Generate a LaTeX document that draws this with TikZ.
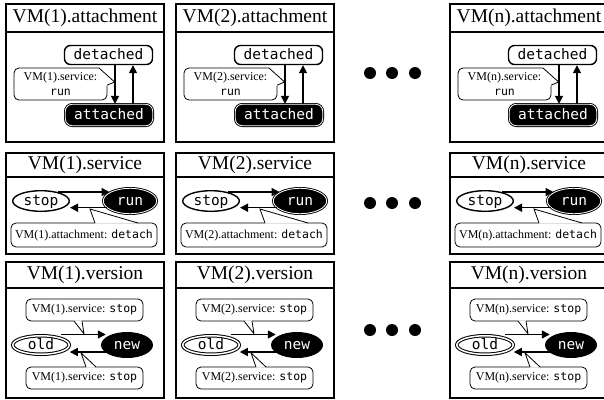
\documentclass[tikz,border=0pt]{standalone}
\usepackage{fontspec}
\setmainfont{Liberation Serif}
\setmonofont{DejaVu Sans Mono}
\usetikzlibrary{arrows.meta,shapes.geometric,calc}
\newcommand\stfont{\fontsize{14.5}{16}\selectfont\ttfamily}
\newcommand\cmono[1]{{\fontsize{11.5}{14}\selectfont\ttfamily #1}}
\begin{document}
\begin{tikzpicture}[x=1pt,y=-1pt,
 frame/.style={draw=black,line width=1.5pt},
 ttl/.style={font=\fontsize{19.5}{22}\selectfont,inner sep=0pt},
 stbase/.style={inner sep=0pt,font=\stfont,text height=10.5pt,text depth=2pt},
 detst/.style={stbase,rectangle,rounded corners=6pt,draw=black,fill=white,line width=1.4pt,minimum width=88pt,minimum height=19pt},
 attst/.style={stbase,rectangle,rounded corners=7pt,draw=black,double=white,double distance=0.8pt,line width=0.9pt,fill=black,text=white,minimum width=87.4pt,minimum height=21.4pt},
 stopst/.style={stbase,ellipse,draw=black,fill=white,line width=1.4pt,minimum width=56.6pt,minimum height=20.6pt},
 runst/.style={stbase,ellipse,draw=black,double=white,double distance=0.8pt,line width=0.9pt,fill=black,text=white,minimum width=53.4pt,minimum height=25.4pt},
 oldst/.style={stbase,ellipse,draw=black,double=white,double distance=1.5pt,line width=1pt,fill=white,minimum width=56.5pt,minimum height=18.5pt},
 newst/.style={stbase,ellipse,fill=black,text=white,minimum width=52pt,minimum height=26pt},
 callbox/.style={draw=black,fill=white,line width=0.8pt,rounded corners=5pt,inner sep=0pt,align=center,font=\fontsize{12}{14.5}\selectfont},
 cline/.style={draw=black,line width=0.8pt,line join=miter},
 arr/.style={draw=black,line width=1.5pt,-{Triangle[length=8pt,width=8pt]}},
]
\useasboundingbox (0,0) rectangle (604,399);
\clip (0,0) rectangle (604,399);
\foreach \X/\n in {6/1,176/2,450/n}{
 % ---- attachment row
 \draw[frame] (\X,4) rectangle ({\X+158},142);
 \draw[frame] (\X,32) -- ({\X+158},32);
 \node[ttl] (t1\n) at ({\X+79},18) {VM(\n).attachment};
 \node[callbox,minimum width=93pt,minimum height=32pt] (c1\n) at ({\X+54.5},84) {VM(\n).service:\\\cmono{run}};
 \fill[white] ({\X+92.5},67) rectangle ({\X+102},85.6);
 \draw[cline] ({\X+93},68) -- ({\X+108.6},82) -- ({\X+101},85.2);
 \node[detst] (det\n) at ({\X+102.5},55) {detached};
 \node[attst] (att\n) at ({\X+103},115) {attached};
 \coordinate (ad\n) at ({\X+109},0);
 \coordinate (au\n) at ({\X+127},0);
 \draw[arr] (det\n.south -| ad\n) -- (att\n.north -| ad\n);
 \draw[arr] (att\n.north -| au\n) -- (det\n.south -| au\n);
 % ---- service row
 \draw[frame] (\X,153) rectangle ({\X+158},254);
 \draw[frame] (\X,177) -- ({\X+158},177);
 \node[ttl] (t2\n) at ({\X+79},165) {VM(\n).service};
 \node[callbox,minimum width=146pt,minimum height=24pt] (c2\n) at ({\X+78},235) {VM(\n).attachment: \cmono{detach}};
 \fill[white] ({\X+89},223.6) -- ({\X+84},209) -- ({\X+132},223.6) -- cycle;
 \draw[cline] ({\X+89},223) -- ({\X+84},209) -- ({\X+132},223);
 \node[stopst] (stop\n) at ({\X+35},201) {stop};
 \node[runst] (run\n) at ({\X+124},201) {run};
 \draw[arr] (stop\n.28) -- (run\n.157 |- stop\n.28);
 \draw[arr] (run\n.-164) -- (stop\n.east |- run\n.-164);
 % ---- version row
 \draw[frame] (\X,262) rectangle ({\X+158},398);
 \draw[frame] (\X,288) -- ({\X+158},288);
 \node[ttl] (t3\n) at ({\X+79},275) {VM(\n).version};
 \node[callbox,minimum width=117pt,minimum height=22pt] (c3\n) at ({\X+78.5},310) {VM(\n).service: \cmono{stop}};
 \fill[white] ({\X+68},320.4) -- ({\X+78},333.8) -- ({\X+76},320.4) -- cycle;
 \draw[cline] ({\X+68},321) -- ({\X+78},333.8) -- ({\X+76},321);
 \node[callbox,minimum width=117pt,minimum height=22pt] (c4\n) at ({\X+78.5},378) {VM(\n).service: \cmono{stop}};
 \fill[white] ({\X+80},367.6) -- ({\X+75},352.8) -- ({\X+90},367.6) -- cycle;
 \draw[cline] ({\X+80},367) -- ({\X+75},352.8) -- ({\X+90},367);
 \node[oldst] (old\n) at ({\X+35},345) {old};
 \node[newst] (new\n) at ({\X+121},345) {new};
 \coordinate (ty\n) at (0,334.5);
 \coordinate (by\n) at (0,352);
 \draw[arr] (old\n.north east |- ty\n) -- (new\n.160 |- ty\n);
 \draw[arr] (new\n.200 |- by\n) -- (old\n.east |- by\n);
}
\foreach \Y in {73,203,330}{
 \foreach \xx in {370,392,415}{
  \fill[black] (\xx,\Y) circle (6);
 }
}
\end{tikzpicture}
\end{document}
